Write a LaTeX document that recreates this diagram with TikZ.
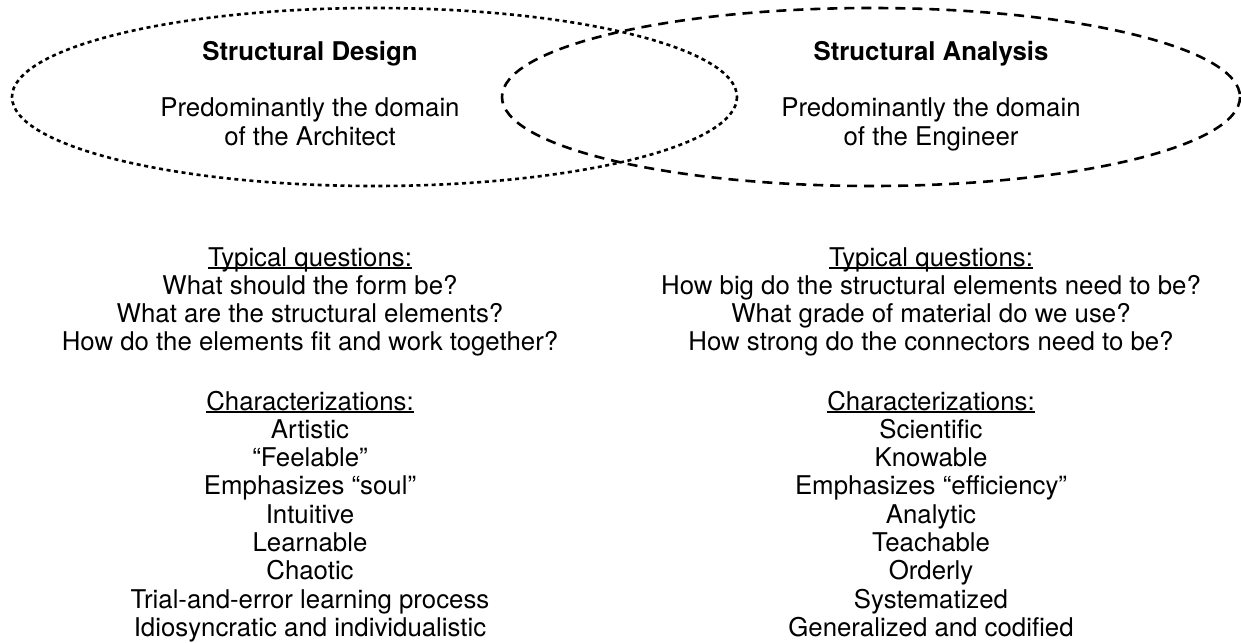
\documentclass[tikz,border=0pt]{standalone}
\usepackage{fontspec}
\setmainfont{TeX Gyre Heros}
\newcommand\ulx[1]{\setbox0\hbox{#1}\rlap{\rule[-2.6pt]{\wd0}{1.3pt}}\box0}
\begin{document}
\begin{tikzpicture}[x=1pt,y=-1pt,
  txt/.style={anchor=base,inner sep=0pt,font=\fontsize{25.8}{28}\selectfont},
  ttl/.style={txt,font=\fontsize{25.8}{28}\selectfont\bfseries},
  dotell/.style={line width=2.6pt,dash pattern=on 4pt off 3.6pt},
  dashell/.style={line width=2.6pt,dash pattern=on 10pt off 7pt}]
\useasboundingbox (0,0) rectangle (1241,642);
\draw[dotell] (374.5,97) ellipse [x radius=362.5, y radius=89];
\draw[dashell] (871,97) ellipse [x radius=369, y radius=89];
% headers
\node[ttl] (tl) at (310,60) {Structural Design};
\node[txt] (tl1) at (310,116) {Predominantly the domain};
\node[txt] (tl2) at (310,145) {of the Architect};
\node[ttl] (tr) at (931,60) {Structural Analysis};
\node[txt] (tr1) at (931,116) {Predominantly the domain};
\node[txt] (tr2) at (931,145) {of the Engineer};
% questions
\foreach \t [count=\i] in {\ulx{Typical questions:},What should the form be?,What are the structural elements?,How do the elements fit and work together?}
  \node[txt] (ql\i) at (310,{266+28.3*(\i-1)}) {\t};
\foreach \t [count=\i] in {\ulx{Typical questions:},How big do the structural elements need to be?,What grade of material do we use?,How strong do the connectors need to be?}
  \node[txt] (qr\i) at (931,{266+28.3*(\i-1)}) {\t};
% characterizations
\foreach \t [count=\i] in {\ulx{Characterizations:},Artistic,“Feelable”,Emphasizes “soul”,Intuitive,Learnable,Chaotic,Trial-and-error learning process,Idiosyncratic and individualistic}
  \node[txt] (cl\i) at (310,{410+28.3*(\i-1)}) {\t};
\foreach \t [count=\i] in {\ulx{Characterizations:},Scientific,Knowable,Emphasizes “efficiency”,Analytic,Teachable,Orderly,Systematized,Generalized and codified}
  \node[txt] (cr\i) at (931,{410+28.3*(\i-1)}) {\t};
\end{tikzpicture}
\end{document}
